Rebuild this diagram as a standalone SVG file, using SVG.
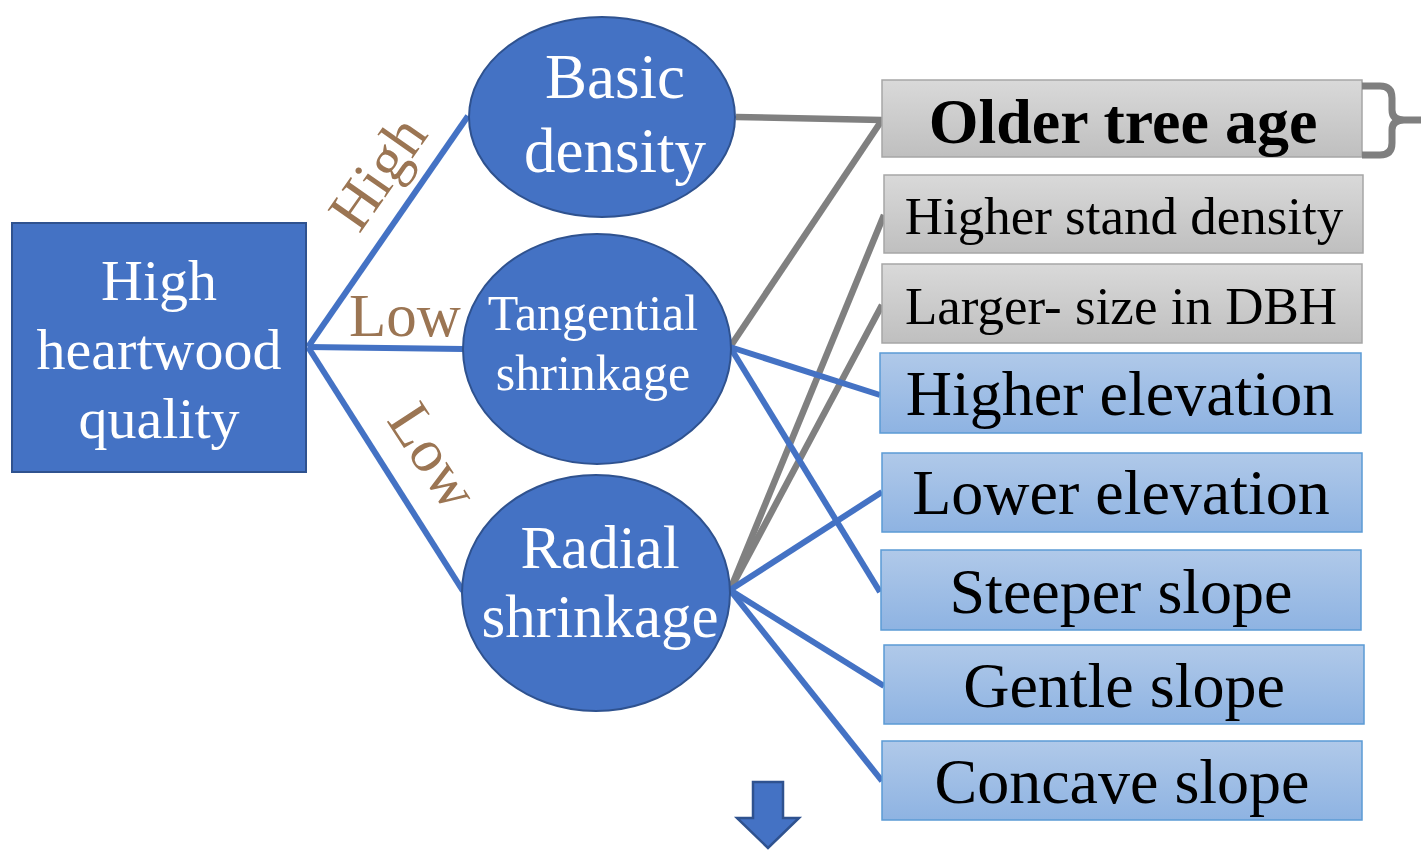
<svg xmlns="http://www.w3.org/2000/svg" width="1421" height="852" viewBox="0 0 1421 852">
  <defs>
    <linearGradient id="gGray" x1="0" y1="0" x2="0" y2="1">
      <stop offset="0" stop-color="#d9d9d9"/>
      <stop offset="1" stop-color="#bfbfbf"/>
    </linearGradient>
    <linearGradient id="gBlue" x1="0" y1="0" x2="0" y2="1">
      <stop offset="0" stop-color="#b0c9e9"/>
      <stop offset="1" stop-color="#8eb3e2"/>
    </linearGradient>
    <style>
      .serif { font-family: "Liberation Serif", "Times New Roman", serif; }
      .node { fill: #4472c4; stroke: #2f528f; stroke-width: 2; }
      .wtxt { fill: #ffffff; text-anchor: middle; }
      .gbox { fill: url(#gGray); stroke: #a6a6a6; stroke-width: 1.5; }
      .bbox { fill: url(#gBlue); stroke: #5b9bd5; stroke-width: 1.5; }
      .btxt { fill: #000000; text-anchor: middle; }
      .blue { stroke: #4472c4; stroke-width: 6; fill: none; }
      .gray { stroke: #808080; stroke-width: 6.5; fill: none; }
      .lbl { fill: #9b7553; font-size: 61px; text-anchor: middle; }
    </style>
  </defs>
  <rect width="1421" height="852" fill="#ffffff"/>

  <!-- connectors -->
  <g id="connectors">
    <line class="blue" x1="308" y1="347" x2="468" y2="116"/>
    <line class="blue" x1="308" y1="347" x2="463" y2="349"/>
    <line class="blue" x1="308" y1="347" x2="463" y2="591"/>
    <line class="gray" x1="736" y1="117" x2="882" y2="120"/>
    <line class="gray" x1="730" y1="347" x2="882" y2="120"/>
    <line class="gray" x1="730" y1="590" x2="884" y2="215"/>
    <line class="gray" x1="730" y1="590" x2="882" y2="305"/>
    <line class="blue" x1="730" y1="347" x2="880" y2="395"/>
    <line class="blue" x1="730" y1="347" x2="880" y2="592"/>
    <line class="blue" x1="730" y1="590" x2="882" y2="492"/>
    <line class="blue" x1="730" y1="590" x2="884" y2="686"/>
    <line class="blue" x1="730" y1="590" x2="882" y2="781"/>
    <!-- edge labels -->
    <text class="serif lbl" transform="translate(382,176) rotate(-55)" y="15">High</text>
    <text class="serif lbl" x="405" y="336">Low</text>
    <text class="serif lbl" transform="translate(429,459) rotate(57)" y="15">Low</text>
  </g>

  <g id="n-quality">
    <rect class="node" x="12" y="223" width="294" height="249"/>
    <text class="serif wtxt" font-size="58"><tspan x="159" y="300">High</tspan><tspan x="159" y="369">heartwood</tspan><tspan x="159" y="438">quality</tspan></text>
  </g>

  <g id="n-basic">
    <ellipse class="node" cx="602" cy="117" rx="133" ry="100"/>
    <text class="serif wtxt" font-size="63"><tspan x="615" y="98">Basic</tspan><tspan x="615" y="172">density</tspan></text>
  </g>

  <g id="n-tangential">
    <ellipse class="node" cx="597" cy="349" rx="134" ry="115"/>
    <text class="serif wtxt" font-size="50"><tspan x="593" y="330">Tangential</tspan><tspan x="593" y="390">shrinkage</tspan></text>
  </g>

  <g id="n-radial">
    <ellipse class="node" cx="596" cy="593" rx="134" ry="118"/>
    <text class="serif wtxt" font-size="61"><tspan x="600" y="568">Radial</tspan><tspan x="600" y="637">shrinkage</tspan></text>
  </g>

  <g id="n-age">
    <rect class="gbox" x="882" y="80" width="480" height="77"/>
    <text class="serif btxt" font-size="64" font-weight="bold" x="1123" y="143">Older tree age</text>
    <path d="M1362,86 H1380 Q1392,86 1392,98 V110 Q1392,120 1404,120 H1421 M1404,120 Q1392,120 1392,130 V143 Q1392,155 1380,155 H1362" fill="none" stroke="#7f7f7f" stroke-width="7"/>
  </g>

  <g id="n-stand">
    <rect class="gbox" x="884" y="175" width="479" height="78"/>
    <text class="serif btxt" font-size="53" x="1124" y="234">Higher stand density</text>
  </g>

  <g id="n-dbh">
    <rect class="gbox" x="882" y="264" width="480" height="79"/>
    <text class="serif btxt" font-size="53" x="1121" y="324">Larger- size in DBH</text>
  </g>

  <g id="n-high-elev">
    <rect class="bbox" x="880" y="353" width="481" height="80"/>
    <text class="serif btxt" font-size="64" x="1120" y="415">Higher elevation</text>
  </g>

  <g id="n-low-elev">
    <rect class="bbox" x="882" y="453" width="480" height="79"/>
    <text class="serif btxt" font-size="64" x="1121" y="514">Lower elevation</text>
  </g>

  <g id="n-steep">
    <rect class="bbox" x="881" y="550" width="480" height="80"/>
    <text class="serif btxt" font-size="64" x="1121" y="613">Steeper slope</text>
  </g>

  <g id="n-gentle">
    <rect class="bbox" x="884" y="645" width="480" height="79"/>
    <text class="serif btxt" font-size="64" x="1124" y="707">Gentle slope</text>
  </g>

  <g id="n-concave">
    <rect class="bbox" x="882" y="741" width="480" height="79"/>
    <text class="serif btxt" font-size="64" x="1122" y="803">Concave slope</text>
  </g>

  <g id="down-arrow">
    <path d="M753,782 H783 V818 H799 L768,848 L737,818 H753 Z" fill="#4472c4" stroke="#2f528f" stroke-width="2.5" stroke-linejoin="miter"/>
  </g>
</svg>
